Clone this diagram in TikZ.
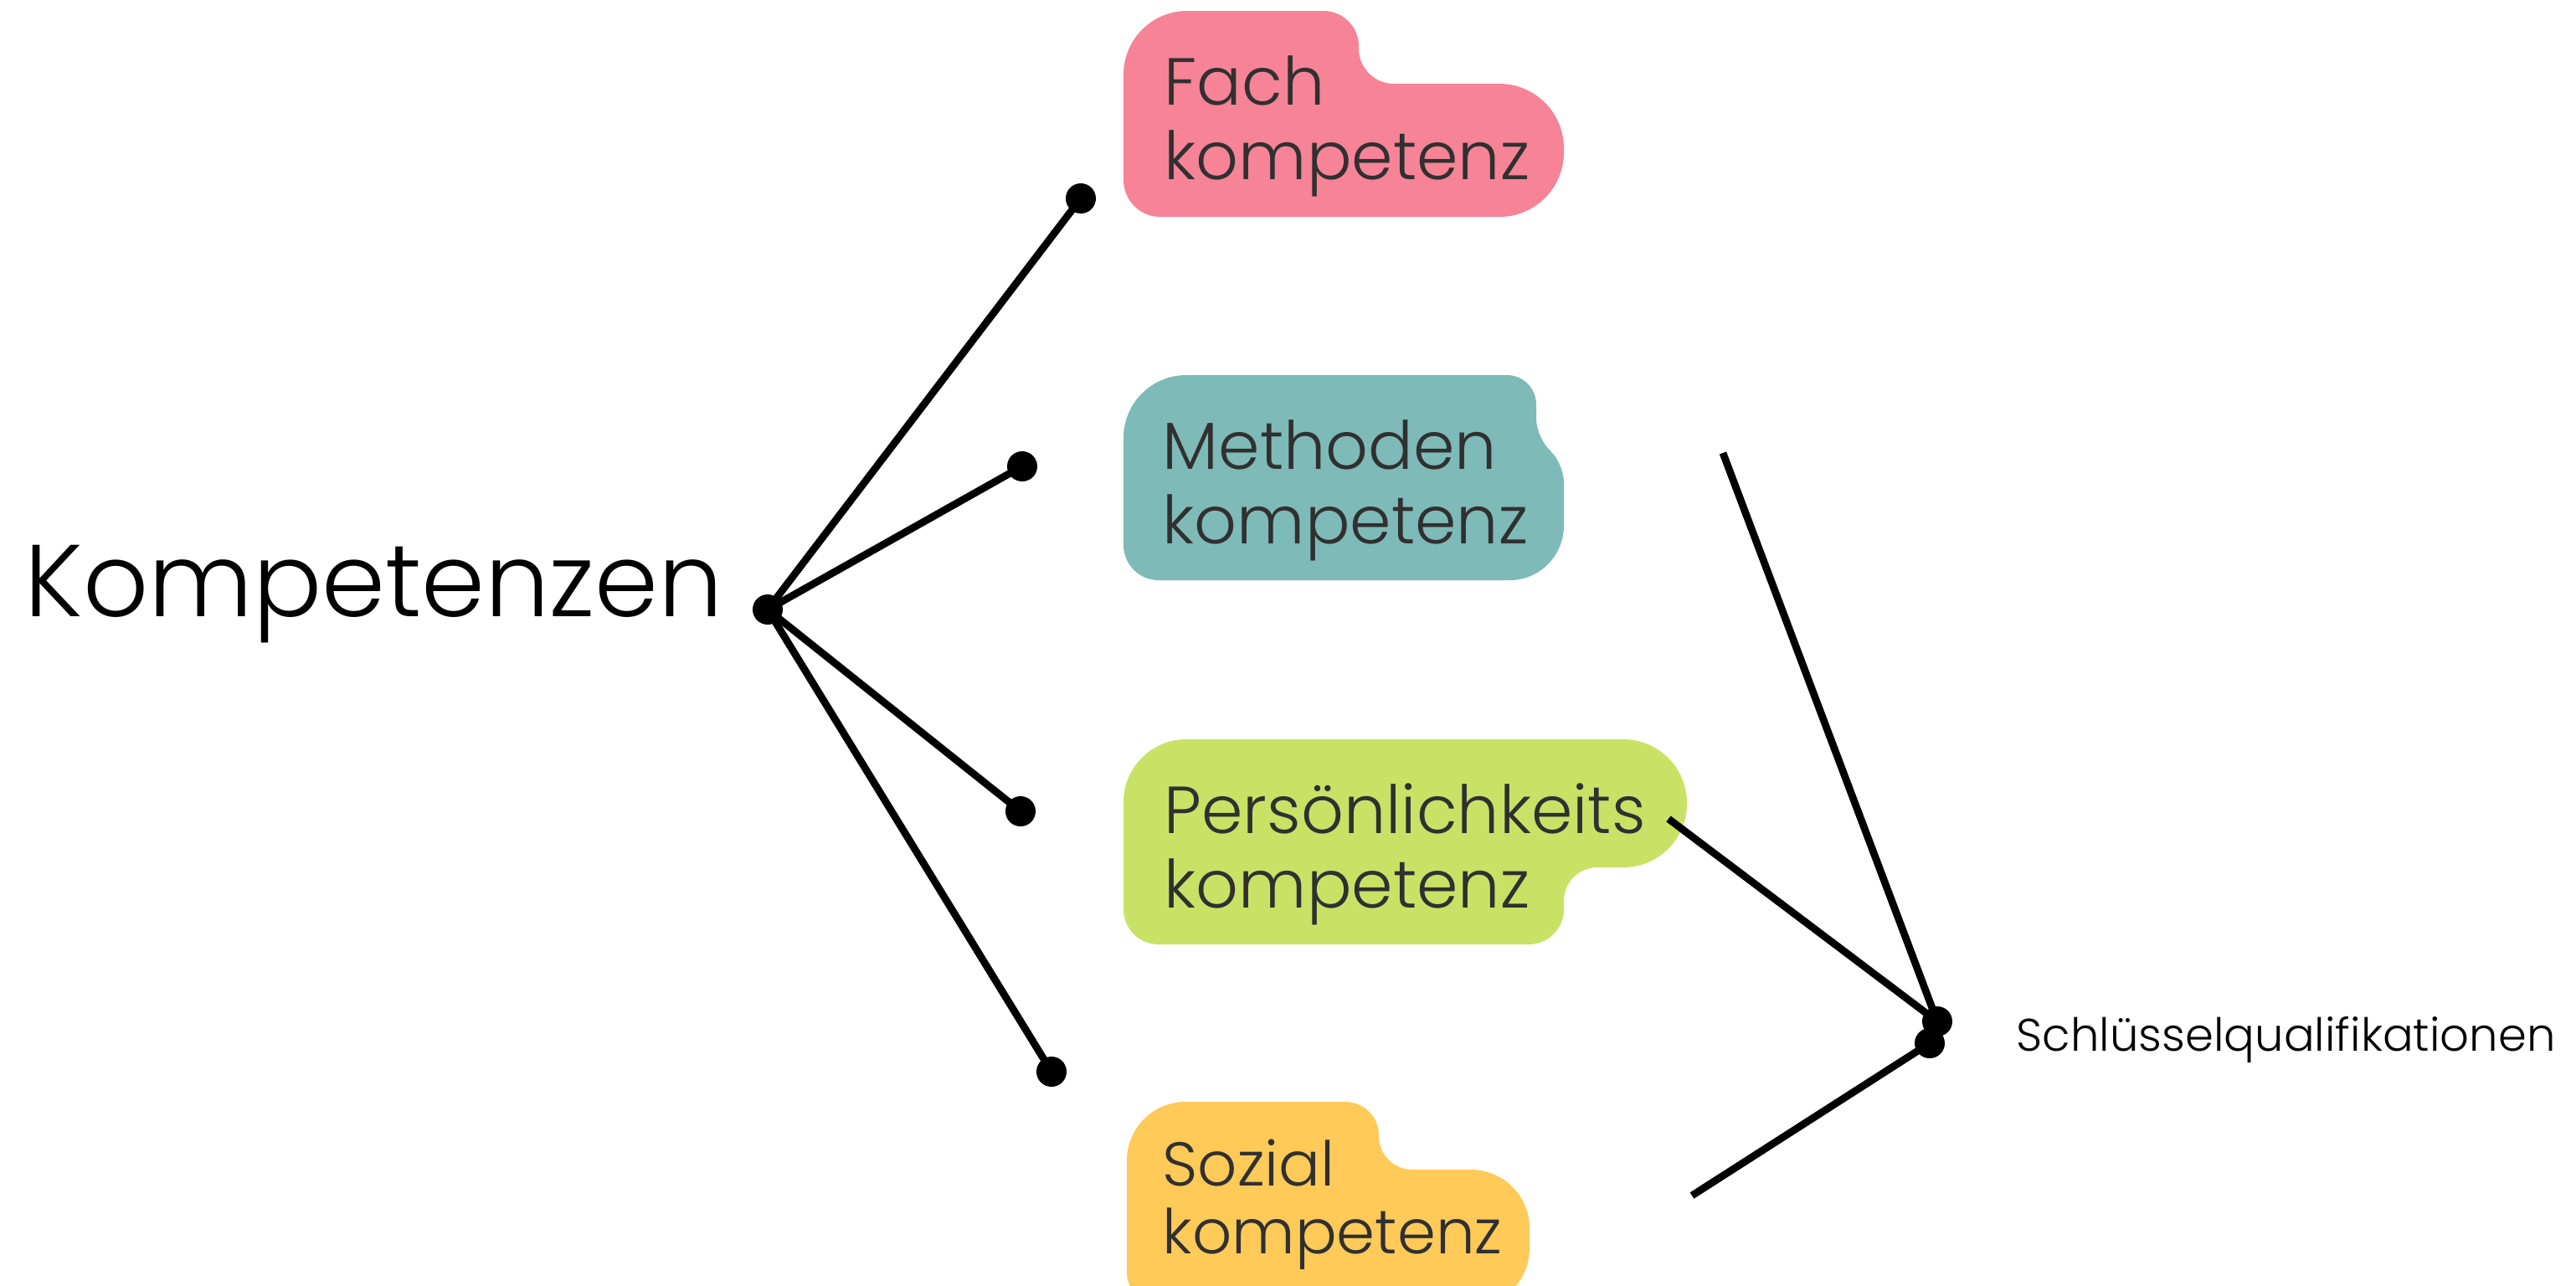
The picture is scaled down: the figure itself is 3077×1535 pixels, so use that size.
\documentclass[tikz,border=0pt]{standalone}
\usepackage{fontspec}
\setmainfont{Poppins}[UprightFont=* Light]
\definecolor{fachpink}{HTML}{F68396}
\definecolor{methteal}{HTML}{7EBAB7}
\definecolor{persgreen}{HTML}{C9E266}
\definecolor{sozyellow}{HTML}{FFCA58}
\definecolor{ink}{HTML}{303030}
\begin{document}
\begin{tikzpicture}[x=0.01cm,y=-0.01cm,
  dot/.style={circle,fill=black,inner sep=0pt,minimum size=0.36cm},
  link/.style={line width=2.5pt,black},
  boxtext/.style={anchor=base west,inner sep=0pt,align=left,text=ink,
    font=\fontsize{22.6}{25.3}\selectfont},
  smallboxtext/.style={boxtext,font=\fontsize{21}{23}\selectfont}]
\useasboundingbox (0,0) rectangle (3077,1535);
\clip (0,0) rectangle (3077,1535);

% coloured label blobs
\fill[fachpink] (1342,150) [rounded corners=0.76cm] -- (1342,13)
  [rounded corners=0.42cm] -- (1623,13) -- (1623,100)
  [rounded corners=0.77cm] -- (1868,100) -- (1868,259)
  [rounded corners=0.44cm] -- (1342,259) -- cycle;
\fill[methteal] (1342,570) [rounded corners=0.75cm] -- (1342,448)
  [rounded corners=0.35cm] -- (1835,448)
  [rounded corners=0.2cm] -- (1835,520) -- (1868,556)
  [rounded corners=0.65cm] -- (1868,693)
  [rounded corners=0.42cm] -- (1342,693) -- cycle;
\fill[persgreen] (1342,1000) [rounded corners=0.75cm] -- (1342,883)
  [rounded corners=0.76cm] -- (2015,883) -- (2015,1036)
  [rounded corners=0.4cm] -- (1868,1036)
  [rounded corners=0.42cm] -- (1868,1128) -- (1342,1128) -- cycle;
\fill[sozyellow] (1346,1440) [rounded corners=0.7cm] -- (1346,1316)
  [rounded corners=0.4cm] -- (1647,1316) -- (1647,1397)
  [rounded corners=0.7cm] -- (1827,1397) -- (1827,1561)
  [rounded corners=0.42cm] -- (1346,1561) -- cycle;

% left fan
\node[dot] (hub) at (917,728) {};
\node[dot] (dfach) at (1291,237) {};
\node[dot] (dmeth) at (1221,557) {};
\node[dot] (dpers) at (1219,969) {};
\node[dot] (dsoz) at (1256,1280) {};
\foreach \e in {dfach,dmeth,dpers,dsoz}
  \draw[link] (hub.center) -- (\e.center);

% right fan
\coordinate (qtop) at (2058,541);
\coordinate (qpers) at (1993,978);
\coordinate (qbot) at (2021,1428);
\node[dot] (qa) at (2314,1220) {};
\node[dot] (qb) at (2305,1246) {};
\draw[link] (qtop) -- (qa.center);
\draw[link] (qpers) -- (qa.center);
\draw[link] (qbot) -- (qb.center);

% texts (base anchor sits on the last line)
\node[anchor=base west,inner sep=0pt,font=\fontsize{34.7}{40}\selectfont] (komp) at (29,736) {Kompetenzen};
\node[anchor=base west,inner sep=0pt,font=\fontsize{15.5}{18}\selectfont] (schl) at (2408,1255) {Schlüsselqualifikationen};
\node[boxtext] (tfach) at (1390,214) {Fach\\kompetenz};
\node[boxtext] (tmeth) at (1388,649) {Methoden\\kompetenz};
\node[boxtext] (tpers) at (1390,1084) {Persönlichkeits\\kompetenz};
\node[smallboxtext] (tsoz) at (1388,1497) {Sozial\\kompetenz};
\end{tikzpicture}
\end{document}
